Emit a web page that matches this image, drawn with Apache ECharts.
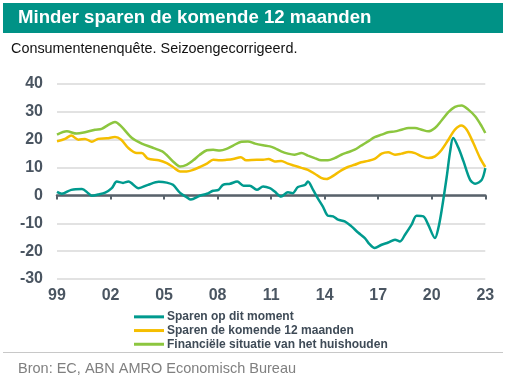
<!DOCTYPE html>
<html>
<head>
<meta charset="utf-8">
<script src="https://cdn.jsdelivr.net/npm/echarts@6/dist/echarts.min.js"></script>
<style>
html,body{margin:0;padding:0;background:#fff;}
#c{width:508px;height:384px;}
</style>
</head>
<body>
<div id="c"></div>
<script>
// X tick labels (two-digit years), every 3 years from 1999 to 2023
const tickYears = [1999, 2002, 2005, 2008, 2011, 2014, 2017, 2020, 2023];
const yTicks = [-30, -20, -10, 0, 10, 20, 30, 40];

const seriesNames = ['Sparen op dit moment', 'Sparen de komende 12 maanden', 'Financiële situatie van het huishouden'];

// Sparen op dit moment (teal)
const tealYears = [1999.0,1999.27,1999.8,2000.4,2000.75,2000.95,2001.3,2001.7,2002.07,2002.35,2002.7,2003.0,2003.57,2004.1,2004.7,2005.15,2005.5,2005.9,2006.26,2006.5,2007.0,2007.4,2007.75,2008.05,2008.3,2008.7,2009.1,2009.45,2009.8,2010.2,2010.55,2010.93,2011.2,2011.56,2011.94,2012.2,2012.5,2012.9,2013.06,2013.35,2013.6,2013.9,2014.18,2014.47,2014.75,2015.12,2015.5,2015.87,2016.25,2016.5,2016.8,2017.19,2017.56,2017.94,2018.22,2018.5,2018.87,2019.15,2019.53,2019.8,2020.18,2020.37,2020.56,2020.84,2021.03,2021.2,2021.5,2021.78,2022.15,2022.43,2022.8,2023.0];
const tealVals = [1.3,0.6,2.0,2.3,0.8,-0.1,0.3,1.0,2.6,5.0,4.5,5.0,2.6,3.8,4.9,4.6,3.8,0.9,-0.6,-1.5,-0.1,0.6,1.7,2.0,3.8,4.2,5.0,3.5,3.5,2.0,3.2,2.6,1.4,-0.4,1.1,0.8,3.0,3.8,5.0,2.0,-0.9,-4.0,-7.3,-7.5,-8.7,-9.3,-11.1,-13.3,-15.3,-17.4,-18.9,-17.7,-16.9,-15.9,-16.5,-14.1,-10.5,-7.3,-7.5,-10.5,-15.3,-11.7,-5.1,6.8,15.8,20.6,17.0,12.2,5.6,4.2,5.6,9.8];

// Sparen de komende 12 maanden (yellow)
const yellowYears = [1999.0,1999.45,1999.8,2000.2,2000.57,2000.95,2001.3,2001.8,2002.25,2002.6,2003.0,2003.47,2003.75,2004.1,2004.7,2005.15,2005.5,2005.9,2006.26,2006.63,2007.0,2007.4,2007.75,2008.13,2008.5,2008.87,2009.3,2009.6,2010.2,2010.55,2010.85,2011.2,2011.56,2011.94,2012.3,2012.7,2013.06,2013.44,2013.8,2014.1,2014.56,2014.93,2015.3,2015.68,2016.05,2016.43,2016.8,2017.19,2017.56,2017.94,2018.3,2018.7,2019.06,2019.44,2019.8,2020.18,2020.56,2020.93,2021.3,2021.65,2021.96,2022.33,2022.7,2023.0];
const yellowVals = [19.4,20.3,21.5,20.0,20.3,19.3,20.3,20.5,21.0,20.0,17.0,15.2,15.2,13.2,12.6,11.6,10.2,8.6,8.6,9.2,10.2,11.4,12.8,12.6,12.8,13.1,13.7,12.6,12.8,12.8,13.1,12.2,12.4,11.4,10.7,9.9,9.2,7.8,6.3,5.9,7.4,9.0,10.2,11.0,11.9,12.4,13.1,15.0,15.5,14.6,15.0,15.6,15.2,14.0,13.4,14.0,16.4,20.0,23.6,25.1,23.6,18.8,13.5,10.2];

// Financiële situatie van het huishouden (green)
const greenYears = [1999.0,1999.55,2000.1,2000.57,2001.13,2001.5,2001.9,2002.25,2002.6,2003.2,2003.75,2004.3,2004.9,2005.13,2005.5,2005.9,2006.26,2006.63,2007.0,2007.4,2007.75,2008.13,2008.5,2008.87,2009.34,2009.7,2010.1,2010.55,2010.93,2011.2,2011.56,2011.94,2012.3,2012.7,2013.06,2013.44,2013.8,2014.18,2014.56,2014.93,2015.3,2015.68,2016.05,2016.43,2016.8,2017.19,2017.56,2017.94,2018.3,2018.7,2019.06,2019.44,2019.8,2020.18,2020.56,2020.93,2021.3,2021.68,2022.05,2022.43,2022.8,2023.0];
const greenVals = [21.8,23.0,22.2,22.7,23.6,23.9,25.4,26.4,24.8,20.6,18.6,17.3,15.8,14.6,12.2,10.4,11.0,12.6,14.6,16.2,16.4,16.1,16.7,17.9,19.3,19.4,18.6,18.0,17.6,17.0,15.8,15.0,14.6,15.2,14.3,13.4,12.6,12.6,13.4,14.6,15.5,16.4,17.9,19.4,20.9,21.8,22.7,23.0,23.6,24.2,24.2,23.6,23.0,24.2,27.0,29.9,31.8,32.3,30.8,28.4,24.8,22.4];

const baseYear = tickYears[0];
const pairs = (ys, vs) => ys.map((y, i) => [y - baseYear, vs[i]]);

const colors = ['#009a8e', '#f5be00', '#8cc63f'];
const FONT = '"Liberation Sans", Arial, sans-serif';
const axisTextColor = '#4a5561';

const chart = echarts.init(document.getElementById('c'), null, {renderer: 'canvas'});

const lineSeries = (name, data, color, z) => ({
  name, type: 'line', data, xAxisIndex: 0, yAxisIndex: 0,
  showSymbol: false, symbol: 'none', smooth: 0.3, z,
  lineStyle: {color, width: 2.5}, itemStyle: {color},
  emphasis: {disabled: true}
});

chart.setOption({
  animation: false,
  backgroundColor: '#fff',
  textStyle: {fontFamily: FONT},
  grid: {left: 57, right: 22.7, top: 84, bottom: 105, containLabel: false},
  xAxis: [
    {
      type: 'value', min: 0, max: tickYears[tickYears.length - 1] - baseYear, interval: 3,
      position: 'bottom',
      axisLine: {show: false, onZero: false}, axisTick: {show: false}, splitLine: {show: false},
      axisLabel: {
        margin: 9, fontSize: 16, fontWeight: 'bold', color: axisTextColor, fontFamily: FONT,
        formatter: v => String((baseYear + v) % 100).padStart(2, '0')
      }
    },
    {
      type: 'value', min: 0, max: tickYears[tickYears.length - 1] - baseYear, interval: 3,
      position: 'bottom',
      axisLine: {show: true, onZero: true, lineStyle: {color: '#58626b', width: 2.5}},
      axisTick: {show: true, length: 4, inside: false, lineStyle: {color: '#58626b', width: 2}},
      axisLabel: {show: false}, splitLine: {show: false}
    }
  ],
  yAxis: {
    type: 'value', min: yTicks[0], max: yTicks[yTicks.length - 1], interval: 10,
    axisLine: {show: false}, axisTick: {show: false},
    axisLabel: {margin: 14, fontSize: 16, fontWeight: 'bold', color: axisTextColor, fontFamily: FONT},
    splitLine: {show: true, lineStyle: {color: '#d9d9d9', width: 1.5}}
  },
  legend: {
    orient: 'vertical', left: 129, top: 305, itemGap: 0,
    icon: 'rect', itemWidth: 30, itemHeight: 3,
    textStyle: {fontSize: 12, fontWeight: 'bold', color: '#3f4b57', fontFamily: FONT, lineHeight: 13.7, padding: [0,0,0,-2]},
    data: seriesNames
  },
  series: [
    lineSeries(seriesNames[2], pairs(greenYears, greenVals), colors[2], 2),
    lineSeries(seriesNames[1], pairs(yellowYears, yellowVals), colors[1], 3),
    lineSeries(seriesNames[0], pairs(tealYears, tealVals), colors[0], 4)
  ],
  graphic: [
    {type: 'rect', shape: {x: 3, y: 3, width: 500, height: 30}, style: {fill: '#009286'}, silent: true},
    {type: 'text', x: 18, y: 18, style: {text: 'Minder sparen de komende 12 maanden', fill: '#fff', font: 'bold 18.6px ' + FONT, textVerticalAlign: 'middle'}},
    {type: 'text', x: 11, y: 49, style: {text: 'Consumentenenquête. Seizoengecorrigeerd.', fill: '#111', font: '14.4px ' + FONT, textVerticalAlign: 'middle'}},
    {type: 'line', shape: {x1: 3, y1: 352.5, x2: 503, y2: 352.5}, style: {stroke: '#c8c8c8', lineWidth: 1}},
    {type: 'text', x: 18, y: 369, style: {text: 'Bron: EC, ABN AMRO Economisch Bureau', fill: '#808080', font: '14.5px ' + FONT, textVerticalAlign: 'middle'}}
  ]
});
</script>
</body>
</html>
